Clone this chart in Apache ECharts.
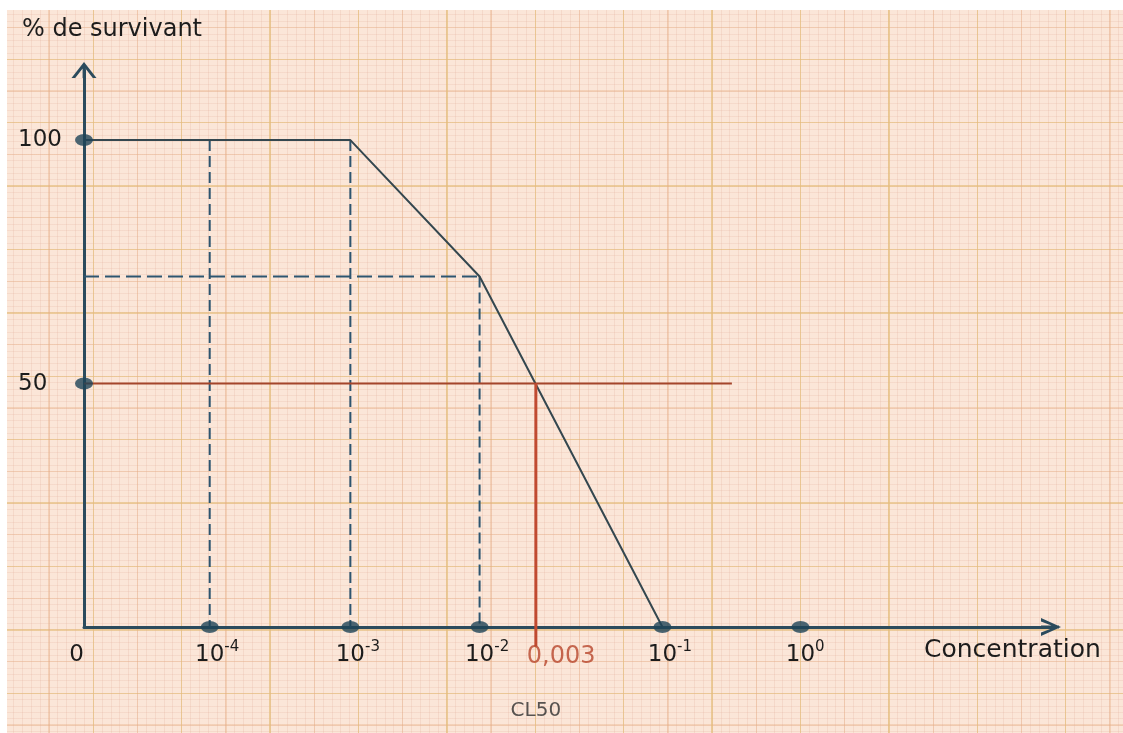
<!DOCTYPE html>
<html>
<head>
<meta charset="utf-8">
<script src="https://cdn.jsdelivr.net/npm/echarts@6/dist/echarts.min.js"></script>
<style>
html, body { margin: 0; padding: 0; width: 1123px; height: 733px; overflow: hidden; background: #ffffff; }
#paper {
  position: absolute; left: 7px; top: 10px; width: 1116px; height: 723px;
  background-color: #fbe6d8;
  background-image:
    repeating-linear-gradient(90deg, transparent 0px, transparent 85.6px, rgba(228,196,120,0.5) 85.6px, rgba(228,196,120,0.5) 87.0px, transparent 87.0px, transparent 88.4px),
    repeating-linear-gradient(90deg, transparent 0px, transparent 41.5px, rgba(230,172,128,0.38) 41.5px, rgba(230,172,128,0.38) 42.8px, transparent 42.8px, transparent 44.2px),
    repeating-linear-gradient(90deg, transparent 0px, transparent 6.3px, rgba(222,168,148,0.22) 6.3px, rgba(222,168,148,0.22) 7.3px, transparent 7.3px, transparent 8.84px),
    repeating-linear-gradient(180deg, transparent 0px, transparent 48.6px, rgba(228,196,120,0.45) 48.6px, rgba(228,196,120,0.45) 50.0px, transparent 50.0px, transparent 63.4px),
    repeating-linear-gradient(180deg, transparent 0px, transparent 16.9px, rgba(230,172,128,0.36) 16.9px, rgba(230,172,128,0.36) 18.2px, transparent 18.2px, transparent 31.7px),
    repeating-linear-gradient(180deg, transparent 0px, transparent 4.5px, rgba(222,168,148,0.2) 4.5px, rgba(222,168,148,0.2) 5.5px, transparent 5.5px, transparent 6.34px);
}
#chart { position: absolute; left: 0; top: 0; width: 1123px; height: 733px; }
</style>
</head>
<body>
<div id="paper"></div>
<div id="chart"></div>
<script>
// ---- data ----
// positions along the drawn concentration axis (cm on the graph paper from the origin)
const tickPos  = [0, 1.43, 3.03, 4.5, 6.58, 8.15];
const tickBase = ['0', '10', '10', '10', '10', '10'];
const tickExp  = ['', '-4', '-3', '-2', '-1', '0'];
const yTicks   = [50, 100];                 // labelled survival values
const dotX     = [1.43, 3.03, 4.5, 6.58, 8.15];
const dotY     = [50, 100];
// survival curve (% de survivant)
const curveX   = [0, 3.03, 4.5, 6.58];
const curveY   = [100, 100, 72, 0];
// dashed guide lines
const guideX   = [1.43, 3.03, 4.5];
const guideTop = [100, 100, 72];
const guideLevel = 72;
const guideLevelEnd = 4.5;
// CL50 construction
const halfLevel   = 50;
const halfLineEnd = 7.37;
const cl50Pos     = 5.14;
const cl50Bottom  = -4;
const cl50Value   = '0,003';
const cl50Name    = 'CL50';
const xName = 'Concentration';
const yName = '% de survivant';

const FONT = 'DejaVu Sans';
const AXIS_C = '#2b4b5d';
const INK = '#1c1c1c';

const chart = echarts.init(document.getElementById('chart'), null, { renderer: 'canvas' });

const yArrow = 'path://M0,16 L12.5,0 L25,16 L21.3,16 L12.5,4.8 L3.7,16 Z M11.1,2 L13.9,2 L13.9,16 L11.1,16 Z';
const xArrow = 'path://M0,20 L9,0 L18,20 L14.6,20 L9,5.5 L3.4,20 Z M7.6,2 L10.4,2 L10.4,20 L7.6,20 Z';

const series = [];
guideX.forEach((gx, i) => {
  series.push({
    type: 'line', z: 2, silent: true, symbol: 'none', clip: false,
    data: [[gx, guideTop[i]], [gx, 0]],
    lineStyle: { color: '#2d5570', width: 2, type: [11, 5] }
  });
});
series.push({
  type: 'line', z: 2, silent: true, symbol: 'none', clip: false,
  data: [[0, guideLevel], [guideLevelEnd, guideLevel]],
  lineStyle: { color: '#2d5570', width: 2, type: [15, 6] }
});
series.push({
  type: 'line', z: 3, silent: true, symbol: 'none', clip: false,
  data: curveX.map((x, i) => [x, curveY[i]]),
  lineStyle: { color: '#34474f', width: 2 }
});
series.push({
  type: 'line', z: 3, silent: true, symbol: 'none', clip: false,
  data: [[0, halfLevel], [halfLineEnd, halfLevel]],
  lineStyle: { color: '#a4452b', width: 2 }
});
series.push({
  type: 'line', z: 3, silent: true, symbol: 'none', clip: false,
  data: [[cl50Pos, halfLevel], [cl50Pos, cl50Bottom]],
  lineStyle: { color: '#c04a30', width: 3 }
});
series.push({
  type: 'scatter', z: 5, silent: true, clip: false,
  symbol: 'circle', symbolSize: [18, 12],
  itemStyle: { color: '#1e4457' },
  data: dotY.map(v => [0, v]).concat(dotX.map(v => [v, 0]))
});
series.push({
  type: 'scatter', z: 6, silent: true, clip: false,
  symbol: 'circle', symbolSize: 0,
  data: [
    { value: [cl50Pos, 0], label: { show: true, formatter: cl50Value, position: 'inside', align: 'left', verticalAlign: 'middle', offset: [-9, 30], color: '#b8462c', fontSize: 24, fontFamily: FONT } },
    { value: [cl50Pos, 0], label: { show: true, formatter: cl50Name, position: 'inside', align: 'center', verticalAlign: 'middle', offset: [0, 84], color: '#2e2e2e', fontSize: 20, fontFamily: FONT } }
  ]
});

function xLabel(v) {
  const i = tickPos.findIndex(p => Math.abs(p - v) < 1e-6);
  if (i < 0) return '';
  if (!tickExp[i]) return '{b|' + tickBase[i] + '}{h|-4}';
  return '{h|' + tickExp[i] + '}{b|' + tickBase[i] + '}{s|' + tickExp[i] + '}';
}

const option = {
  animation: false,
  backgroundColor: 'transparent',
  grid: { left: 84, right: 72, top: 70, bottom: 106, containLabel: false, outerBoundsMode: 'none' },
  xAxis: {
    type: 'value', min: 0, max: 11,
    name: xName, nameLocation: 'end', nameGap: -127,
    nameTextStyle: { fontFamily: FONT, fontSize: 25, color: INK, align: 'left', verticalAlign: 'top', lineHeight: 46 },
    axisLine: { show: true, onZero: false, symbol: ['none', xArrow], symbolSize: [18, 20], lineStyle: { color: AXIS_C, width: 3 } },
    axisTick: { show: false },
    splitLine: { show: false },
    axisLabel: {
      show: true, customValues: tickPos, margin: 13, formatter: xLabel,
      rich: {
        b: { fontFamily: FONT, fontSize: 23, lineHeight: 30, color: INK },
        s: { fontFamily: FONT, fontSize: 15, lineHeight: 15, verticalAlign: 'top', color: INK },
        h: { fontFamily: FONT, fontSize: 15, lineHeight: 15, verticalAlign: 'top', color: 'rgba(0,0,0,0)' }
      }
    }
  },
  yAxis: {
    type: 'value', min: 0, max: 114.4,
    name: yName, nameLocation: 'end', nameGap: 28,
    nameTextStyle: { fontFamily: FONT, fontSize: 24, color: INK, align: 'center', padding: [0, 0, 0, 56] },
    axisLine: { show: true, onZero: false, symbol: ['none', yArrow], symbolSize: [25, 16], lineStyle: { color: AXIS_C, width: 3 } },
    axisTick: { show: false },
    splitLine: { show: false },
    axisLabel: { show: true, customValues: yTicks, margin: 66, align: 'left', fontFamily: FONT, fontSize: 23, color: INK }
  },
  series: series
};
chart.setOption(option);
</script>
</body>
</html>
